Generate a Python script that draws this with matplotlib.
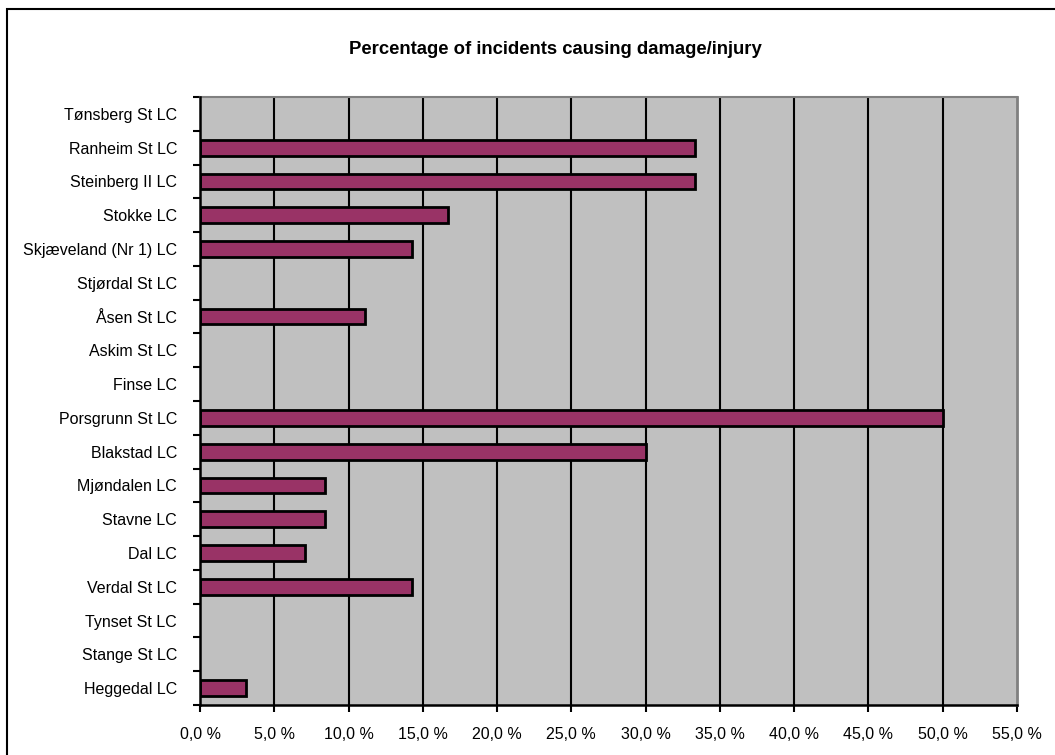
import matplotlib
matplotlib.use("Agg")
import matplotlib.pyplot as plt
from matplotlib.patches import Rectangle
from matplotlib.ticker import FixedLocator

plt.rcParams['font.family'] = ['Liberation Sans', 'DejaVu Sans']

categories = ["Tønsberg St LC", "Ranheim St LC", "Steinberg II LC", "Stokke LC",
              "Skjæveland (Nr 1) LC", "Stjørdal St LC", "Åsen St LC", "Askim St LC",
              "Finse LC", "Porsgrunn St LC", "Blakstad LC", "Mjøndalen LC",
              "Stavne LC", "Dal LC", "Verdal St LC", "Tynset St LC",
              "Stange St LC", "Heggedal LC"]
values = [0.0, 33.3, 33.3, 16.7, 14.3, 0.0, 11.1, 0.0, 0.0, 50.0, 30.0, 8.4,
          8.4, 7.1, 14.3, 0.0, 0.0, 3.1]
xticks = [0, 5, 10, 15, 20, 25, 30, 35, 40, 45, 50, 55]
xticklabels = ["0,0 %", "5,0 %", "10,0 %", "15,0 %", "20,0 %", "25,0 %",
               "30,0 %", "35,0 %", "40,0 %", "45,0 %", "50,0 %", "55,0 %"]
title = "Percentage of incidents causing damage/injury"

W, H = 1055, 755
fig = plt.figure(figsize=(W / 100, H / 100), dpi=100)
fig.patch.set_facecolor('white')

# outer border
fig.patches.append(Rectangle((7 / W, -0.05), 1.2, 1 - 9 / H + 0.05, transform=fig.transFigure,
                             fill=False, edgecolor='black', linewidth=1.5, zorder=0))

left, right, top, bottom = 200, 1017, 97, 705
ax = fig.add_axes([left / W, 1 - bottom / H, (right - left) / W, (bottom - top) / H])
ax.set_facecolor('#C0C0C0')

n = len(categories)
ypos = list(range(n))[::-1]
nz_y = [y for y, v in zip(ypos, values) if v > 0]
nz_v = [v for v in values if v > 0]
ax.barh(nz_y, nz_v, height=0.47, color='#993366', edgecolor='black',
        linewidth=2.0, zorder=3)

ax.set_xlim(0, 55)
ax.set_ylim(-0.5, n - 0.5)
ax.set_xticks(xticks)
ax.set_xticklabels(xticklabels, fontsize=11.5)
ax.set_yticks(ypos)
ax.set_yticklabels(categories, fontsize=11.5)
ax.yaxis.set_minor_locator(FixedLocator([i - 0.5 for i in range(n + 1)]))
ax.tick_params(axis='y', which='major', length=0, pad=16.5)
ax.tick_params(axis='y', which='minor', length=5, width=1.5, direction='out')
ax.tick_params(axis='x', which='major', length=5, width=1.5, direction='out', pad=10.5)

for x in xticks[1:-1]:
    ax.axvline(x, color='black', linewidth=1.5, zorder=1)

ax.spines['left'].set_color('black')
ax.spines['left'].set_linewidth(1.8)
ax.spines['left'].set_zorder(4)
ax.spines['bottom'].set_color('black')
ax.spines['bottom'].set_linewidth(1.8)
ax.spines['right'].set_color('#808080')
ax.spines['right'].set_linewidth(2.0)
ax.spines['top'].set_color('#808080')
ax.spines['top'].set_linewidth(1.5)

fig.text(555.5 / W, 1 - 50 / H, title, ha='center', va='center', fontsize=13.3,
         fontweight='bold')

fig.savefig('out.png', dpi=100)
